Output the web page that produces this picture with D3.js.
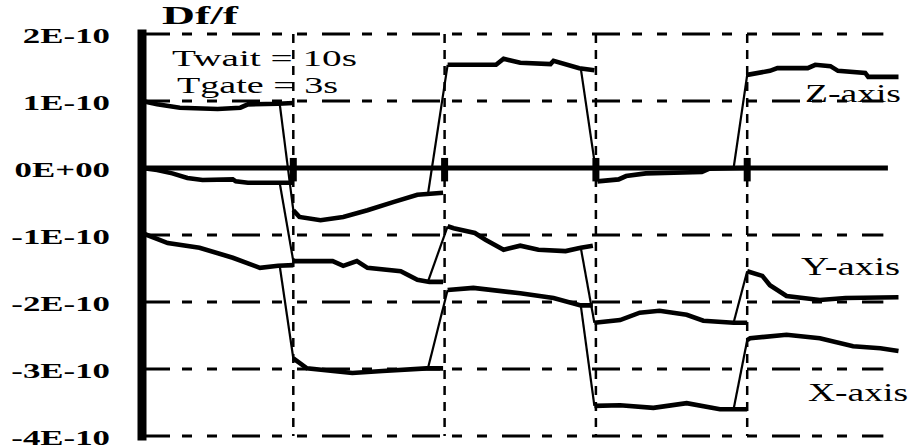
<!DOCTYPE html>
<html>
<head>
<meta charset="utf-8">
<script src="https://cdn.jsdelivr.net/npm/d3@7"></script>
<style>
  html, body { margin: 0; padding: 0; background: #fff; }
  text { font-family: "Liberation Serif", "Times New Roman", serif; fill: #000; }
</style>
</head>
<body>
<script>
// ---------- data (Df/f in units of 1E-10, time in switching periods) ----------
const yTicks = [2, 1, 0, -1, -2, -3, -4];
const yTickLabels = ["2E-10", "1E-10", "0E+00", "-1E-10", "-2E-10", "-3E-10", "-4E-10"];
const periodBoundaries = [1, 2, 3, 4];
const switchStarts = [0.91, 1.89, 2.9, 3.91];

const zSegments = [
  [[0, 1.0], [0.1, 0.95], [0.25, 0.9], [0.5, 0.88], [0.65, 0.9], [0.7, 0.95], [0.9, 0.96], [1.0, 0.97]],
  [[1.0, -0.63], [1.04, -0.73], [1.18, -0.78], [1.33, -0.73], [1.49, -0.63], [1.66, -0.51], [1.82, -0.4], [1.99, -0.37]],
  [[2.02, 1.54], [2.34, 1.54], [2.39, 1.63], [2.5, 1.57], [2.7, 1.55], [2.72, 1.6], [2.89, 1.49], [2.99, 1.46]],
  [[3.01, -0.2], [3.15, -0.17], [3.2, -0.12], [3.33, -0.08], [3.7, -0.06], [3.75, -0.01], [4.0, 0.0]],
  [[4.0, 1.39], [4.15, 1.45], [4.2, 1.49], [4.4, 1.49], [4.45, 1.54], [4.55, 1.52], [4.6, 1.45], [4.78, 1.42], [4.8, 1.36], [5.0, 1.36]]
];
const ySegments = [
  [[0, 0], [0.1, -0.03], [0.2, -0.08], [0.3, -0.15], [0.4, -0.18], [0.6, -0.17], [0.62, -0.2], [0.7, -0.22], [1.0, -0.22]],
  [[1.0, -1.39], [1.26, -1.39], [1.33, -1.46], [1.42, -1.39], [1.49, -1.49], [1.71, -1.54], [1.82, -1.67], [1.9, -1.7], [1.99, -1.7]],
  [[2.02, -0.87], [2.06, -0.9], [2.2, -0.97], [2.27, -1.07], [2.39, -1.22], [2.5, -1.16], [2.62, -1.22], [2.8, -1.24], [2.9, -1.19], [2.98, -1.16]],
  [[2.99, -2.31], [3.16, -2.27], [3.29, -2.16], [3.42, -2.13], [3.6, -2.19], [3.71, -2.28], [3.91, -2.31], [4.0, -2.31]],
  [[4.0, -1.54], [4.1, -1.61], [4.15, -1.75], [4.26, -1.91], [4.48, -1.97], [4.65, -1.94], [5.0, -1.93]]
];
const xSegments = [
  [[0, -0.97], [0.17, -1.12], [0.38, -1.19], [0.6, -1.34], [0.78, -1.49], [0.9, -1.46], [1.0, -1.45]],
  [[1.0, -2.84], [1.09, -2.99], [1.39, -3.06], [1.59, -3.03], [1.88, -2.99], [1.99, -2.99]],
  [[2.02, -1.82], [2.19, -1.79], [2.5, -1.87], [2.72, -1.94], [2.9, -2.05], [2.98, -2.05]],
  [[2.99, -3.55], [3.16, -3.54], [3.38, -3.58], [3.6, -3.51], [3.82, -3.6], [4.0, -3.6]],
  [[4.0, -2.57], [4.02, -2.54], [4.26, -2.49], [4.48, -2.54], [4.7, -2.66], [4.88, -2.69], [5.0, -2.73]]
];
const seriesNames = ["Z-axis", "Y-axis", "X-axis"];

// ---------- layout ----------
const W = 913, H = 448;
const x = d3.scaleLinear().domain([0, 5]).range([142, 898.5]);
const y = d3.scaleLinear().domain([-4, 2]).range([436, 34]);
const gridEnd = 4.9, zeroEnd = 4.93;

const svg = d3.select("body").append("svg").attr("width", W).attr("height", H);

// horizontal dashed grid
svg.append("g").selectAll("line").data(yTicks.filter(d => d !== 0)).join("line")
  .attr("x1", x(0)).attr("x2", x(gridEnd))
  .attr("y1", d => y(d)).attr("y2", d => y(d))
  .attr("stroke", "#000").attr("stroke-width", 3)
  .attr("stroke-dasharray", "28,12,10,15,10,15");

// vertical dashed grid
svg.append("g").selectAll("line").data(periodBoundaries).join("line")
  .attr("x1", d => x(d)).attr("x2", d => x(d))
  .attr("y1", y(2)).attr("y2", y(-4))
  .attr("stroke", "#000").attr("stroke-width", 2.5)
  .attr("stroke-dasharray", "9,7");

// zero line
svg.append("line")
  .attr("x1", x(0)).attr("x2", x(zeroEnd))
  .attr("y1", y(0)).attr("y2", y(0))
  .attr("stroke", "#000").attr("stroke-width", 5);

// blobs at the switching instants on the zero line
svg.append("g").selectAll("line").data(periodBoundaries).join("line")
  .attr("x1", d => x(d)).attr("x2", d => x(d))
  .attr("y1", y(0.15)).attr("y2", y(-0.2))
  .attr("stroke", "#000").attr("stroke-width", 7);

// y axis
const axisG = svg.append("g").attr("transform", `translate(${x(0)},0)`)
  .call(d3.axisLeft(y).tickValues(yTicks).tickSize(0).tickPadding(32)
    .tickFormat((d, i) => yTickLabels[i]));
axisG.select(".domain").remove();
axisG.append("line").attr("x1", 0).attr("x2", 0).attr("y1", y(2)).attr("y2", y(-4))
  .attr("stroke", "#000").attr("stroke-width", 9).attr("stroke-linecap", "square");
axisG.selectAll(".tick text")
  .attr("font-family", "Liberation Serif, Times New Roman, serif")
  .attr("font-weight", "bold").attr("font-size", 21).attr("fill", "#000")
  .attr("x", null).attr("dy", null)
  .attr("dominant-baseline", "central")
  .attr("transform", "translate(-32,1) scale(1.66,1)");

// series
const line = d3.line().x(d => x(d[0])).y(d => y(d[1]));
function drawSeries(segs) {
  const g = svg.append("g");
  g.selectAll("path.seg").data(segs).join("path").attr("class", "seg")
    .attr("d", line).attr("fill", "none").attr("stroke", "#000")
    .attr("stroke-width", 4.6).attr("stroke-linejoin", "miter");
  const trans = switchStarts.map((ts, k) => {
    const s = segs[k];
    const f = d3.scaleLinear().domain(s.map(p => p[0])).range(s.map(p => p[1]));
    return [[ts, f(ts)], segs[k + 1][0]];
  });
  g.selectAll("path.tr").data(trans).join("path").attr("class", "tr")
    .attr("d", line).attr("fill", "none").attr("stroke", "#000").attr("stroke-width", 2.2);
}
[zSegments, ySegments, xSegments].forEach(drawSeries);

// texts
function label(txt, tx, ty, size, len, weight) {
  svg.append("text").attr("x", tx).attr("y", ty)
    .attr("font-size", size).attr("font-weight", weight || "normal")
    .attr("textLength", len).attr("lengthAdjust", "spacingAndGlyphs")
    .text(txt);
}
label("Df/f", 162, 24, 25, 76, "bold");
label("Twait = 10s", 172, 66, 24, 185);
label("Tgate = 3s", 177, 93, 24, 161);
label(seriesNames[0], 805, 102, 25, 96);
label(seriesNames[1], 801, 275, 25, 99);
label(seriesNames[2], 808, 401, 25, 100);
</script>
</body>
</html>
